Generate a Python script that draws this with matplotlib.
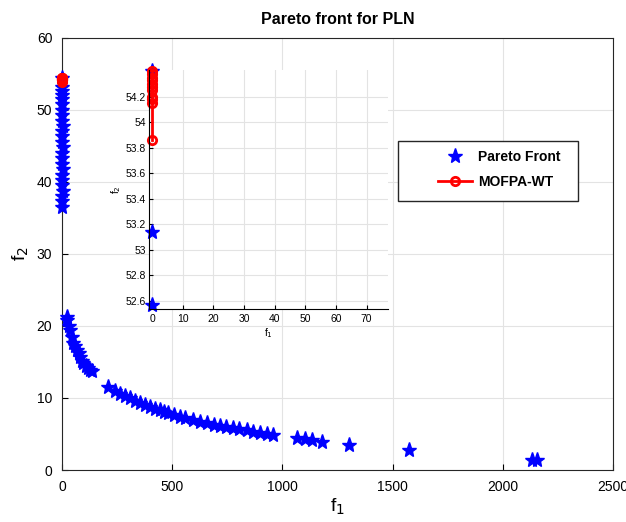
import numpy as np
import matplotlib.pyplot as plt
from matplotlib.patches import Rectangle
from matplotlib.ticker import FuncFormatter

# --- Pareto front data ---
col_f1 = [1, 2, 0, 3, 1, 2, 0, 3, 1, 2, 0, 3, 1, 2, 0, 3, 1, 2, 0, 2, 1, 1, 0, 0, 0]
col_f2 = [36.5, 37.3, 38.0, 38.8, 39.5, 40.3, 41.0, 41.8, 42.5, 43.3, 44.0, 44.8,
          45.5, 46.3, 47.0, 47.8, 48.5, 49.3, 50.0, 50.8, 51.5, 52.0, 52.57, 53.14, 54.4]

curve_f1 = [21, 23, 30, 36, 44, 51, 59, 67, 75, 82, 90, 97, 110, 119, 127, 135,
            210, 240, 263, 285, 309, 330, 354, 375, 399, 420, 445, 465, 482, 510,
            535, 560, 596, 625, 657, 690, 717, 745, 777, 805, 838, 865, 898, 930,
            959, 1065, 1103, 1133, 1178, 1304, 1576, 2131, 2154]
curve_f2 = [21.3, 20.8, 20.0, 19.4, 18.5, 17.6, 17.2, 16.7, 16.2, 15.7, 15.2, 14.8,
            14.4, 14.1, 13.9, 13.7, 11.5, 11.0, 10.6, 10.3, 10.0, 9.6, 9.3, 9.0,
            8.8, 8.5, 8.3, 8.1, 7.9, 7.7, 7.4, 7.2, 6.9, 6.7, 6.5, 6.3, 6.1, 6.0,
            5.8, 5.65, 5.5, 5.3, 5.1, 5.0, 4.9, 4.4, 4.35, 4.2, 3.9, 3.5, 2.8, 1.4, 1.4]

pf_f1 = np.array(col_f1 + curve_f1, dtype=float)
pf_f2 = np.array(col_f2 + curve_f2, dtype=float)

# --- MOFPA-WT solutions ---
wt_f1 = [0, 0, 0, 0, 0, 0, 0, 0, 0, 0, 0]
wt_f2 = [53.86, 54.15, 54.18, 54.2, 54.25, 54.28, 54.3, 54.33, 54.35, 54.38, 54.4]

# inset window
in_xlim = (-0.9, 76.9)
in_ylim = (52.535, 54.41)

plt.rcParams['font.family'] = ['Liberation Sans', 'DejaVu Sans']

fig = plt.figure(figsize=(6.26, 5.22), dpi=100)
ax = fig.add_axes([0.099, 0.0996, 0.880, 0.828])

ax.plot(pf_f1, pf_f2, '*', color='blue', markersize=11, linestyle='none',
        clip_on=False, label='Pareto Front', zorder=3)
ax.plot(wt_f1, wt_f2, '-o', color='red', linewidth=2, markersize=6,
        markerfacecolor='none', markeredgewidth=2, clip_on=False,
        label='MOFPA-WT', zorder=3)

ax.set_xlim(0, 2500)
ax.set_ylim(0, 60)
ax.set_xticks(np.arange(0, 2501, 500))
ax.set_yticks(np.arange(0, 61, 10))
ax.grid(True, color='#e3e3e3', linewidth=0.8)
ax.set_axisbelow(True)
ax.tick_params(direction='in', labelsize=10, length=4, pad=7)
for s in ax.spines.values():
    s.set_color('#262626')
ax.set_xlabel('f$_1$', fontsize=14, labelpad=2)
ax.set_ylabel('f$_2$', fontsize=14)
ax.set_title('Pareto front for PLN', fontsize=11.5, fontweight='bold', pad=10)

# legend box (white, drawn over the grid) and entries inside it
ax.add_patch(Rectangle((0.61, 0.623), 0.326, 0.139, transform=ax.transAxes,
                       facecolor='white', edgecolor='#262626', linewidth=1.0,
                       zorder=4))
ax.legend(loc='upper left', bbox_to_anchor=(0.682, 0.740), frameon=False,
          prop={'weight': 'bold', 'size': 10}, borderpad=0, borderaxespad=0,
          labelspacing=0.8, handlelength=2.5, handletextpad=0.4)

# --- inset zoom ---
axi = fig.add_axes([0.2385, 0.408, 0.381, 0.458])
inside = ((pf_f1 >= in_xlim[0]) & (pf_f1 <= in_xlim[1]) &
          (pf_f2 >= in_ylim[0]) & (pf_f2 <= in_ylim[1]))
axi.plot(pf_f1[inside], pf_f2[inside], '*', color='blue', markersize=11,
         linestyle='none', clip_on=False)
axi.plot(wt_f1, wt_f2, '-o', color='red', linewidth=2, markersize=6,
         markerfacecolor='none', markeredgewidth=2, clip_on=False)
axi.set_xlim(*in_xlim)
axi.set_ylim(*in_ylim)
axi.set_xticks(np.arange(0, 71, 10))
axi.set_yticks(np.arange(52.6, 54.21, 0.2))
axi.yaxis.set_major_formatter(FuncFormatter(lambda v, p: '%g' % round(v, 1)))
axi.grid(True, color='#e3e3e3', linewidth=0.8)
axi.set_axisbelow(True)
axi.spines['top'].set_visible(False)
axi.spines['right'].set_visible(False)
axi.tick_params(direction='in', labelsize=7.5, length=3)
axi.tick_params(axis='y', pad=2.5)
axi.set_xlabel('f$_1$', fontsize=7.5, labelpad=2)
axi.set_ylabel('f$_2$', fontsize=7.5, labelpad=2)

fig.savefig('out.png', dpi=100)
